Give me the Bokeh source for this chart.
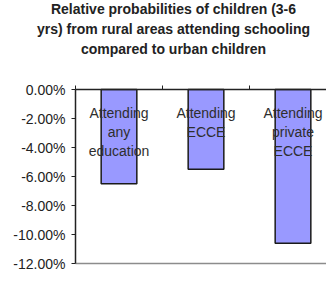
from bokeh.plotting import figure
from bokeh.models import Range1d, FixedTicker, NumeralTickFormatter, ColumnDataSource, LinearAxis
from bokeh.embed import file_html
from bokeh.resources import INLINE
from bokeh.core.properties import value

# ---- data ----
title_lines = [
    "Relative probabilities of children (3-6",
    "yrs) from rural areas attending schooling",
    "compared to urban children",
]
categories = ["Attending any education", "Attending ECCE", "Attending private ECCE"]
category_lines = [["Attending", "any", "education"], ["Attending", "ECCE"], ["Attending", "private", "ECCE"]]
values = [-0.065, -0.055, -0.106]
y_ticks = [0.0, -0.02, -0.04, -0.06, -0.08, -0.10, -0.12]

FONT = "Liberation Sans"
W, H = 326, 276
# plot-area geometry in pixels (from the reference picture)
AREA_LEFT, AREA_TOP, AREA_BOTTOM, CAT_W = 75, 89, 263, 87.0
ymin, ymax = min(y_ticks), max(y_ticks)
per_px = (ymax - ymin) / (AREA_BOTTOM - AREA_TOP)
n = len(categories)

p = figure(width=W, height=H, output_backend="svg", toolbar_location=None,
           title_location=None, x_axis_location=None, y_axis_location=None,
           x_range=Range1d(-AREA_LEFT / CAT_W, (W - AREA_LEFT) / CAT_W),
           y_range=Range1d(ymin - (H - AREA_BOTTOM) * per_px, ymax + AREA_TOP * per_px),
           min_border_left=0, min_border_right=0, min_border_top=0, min_border_bottom=0)
p.background_fill_color = "white"
p.border_fill_color = "white"
p.outline_line_color = None
p.grid.visible = False

# y axis at x = 0, limited to the plot area
ya = LinearAxis(fixed_location=0, bounds=(ymin, ymax), ticker=FixedTicker(ticks=y_ticks),
                formatter=NumeralTickFormatter(format="0.00%"),
                major_label_text_font=FONT, major_label_text_font_size="14px",
                major_label_text_color="#222222", major_label_standoff=6,
                major_tick_out=4, major_tick_in=0, minor_tick_out=0, minor_tick_in=0,
                axis_line_color="#222222", axis_line_width=1.5, major_tick_line_color="#222222")
p.add_layout(ya, "left")

# category axis along y = 0 with ticks between categories
cat_ticks = list(range(n + 1))
xa = LinearAxis(fixed_location=0, bounds=(0, n), ticker=FixedTicker(ticks=cat_ticks),
                major_label_overrides={t: "" for t in cat_ticks},
                major_tick_out=4, major_tick_in=0, minor_tick_out=0, minor_tick_in=0,
                axis_line_color="#222222", axis_line_width=1.5, major_tick_line_color="#222222")
p.add_layout(xa, "above")

# grey bottom edge of the plot area
p.add_layout(LinearAxis(fixed_location=ymin, bounds=(0, n), ticker=FixedTicker(ticks=[]),
                        axis_line_color="#8c8c8c", axis_line_width=1.5,
                        major_tick_out=0, minor_tick_out=0), "below")

xs = [i + 0.5 for i in range(n)]
src = ColumnDataSource(dict(x=xs, v=values, top=[0] * n))
p.vbar(x="x", top="top", bottom="v", width=0.41, source=src,
       fill_color="#9999FF", line_color="#1a1a1a", line_width=1.5)

# category labels inside bars
tx, ty, tt, toff = [], [], [], []
for i, lines in enumerate(category_lines):
    for j, t in enumerate(lines):
        tx.append(xs[i]); ty.append(0); tt.append(t); toff.append(23 + 19 * j)
tsrc = ColumnDataSource(dict(x=tx, y=ty, t=tt, off=toff))
p.text(x="x", y="y", text="t", y_offset="off", source=tsrc,
       text_align="center", text_baseline="middle",
       text_font=value(FONT), text_font_size="14px", text_color="#2e2e2e")

# title, three centred lines above the plot area
tsrc2 = ColumnDataSource(dict(x=[0] * len(title_lines), y=[ymax] * len(title_lines),
                              t=title_lines, off=[-81 + 20 * k for k in range(len(title_lines))]))
p.text(x="x", y="y", text="t", x_offset=98, y_offset="off", source=tsrc2,
       text_align="center", text_baseline="middle",
       text_font=value(FONT), text_font_style="bold", text_font_size="14px",
       text_color="#222222")

open("out.html", "w").write(file_html(p, INLINE))
